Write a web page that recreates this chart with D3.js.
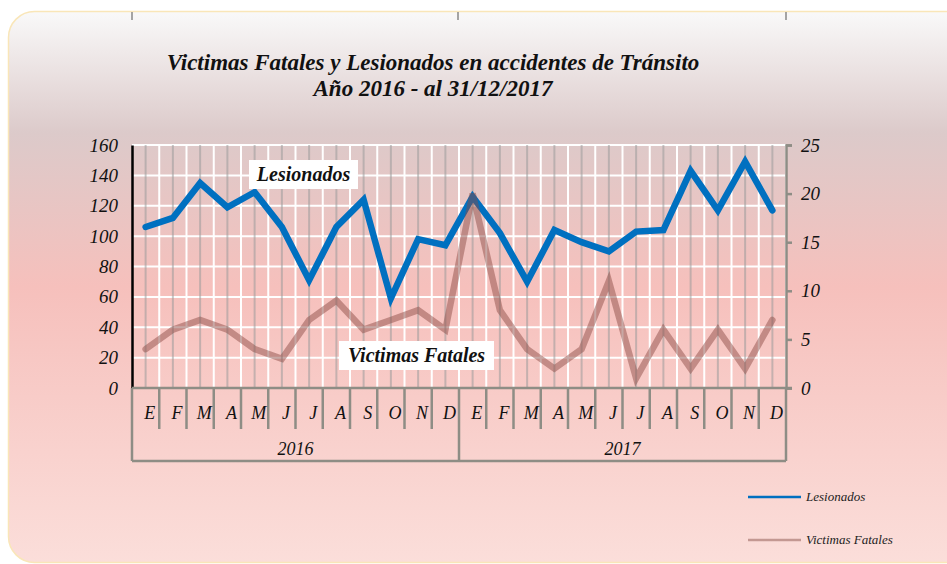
<!DOCTYPE html>
<html><head><meta charset="utf-8">
<script src="https://cdn.jsdelivr.net/npm/d3@7"></script>
<style>html,body{margin:0;padding:0;background:#fff;}svg{display:block;}</style>
</head><body>
<svg id="chart" width="947" height="564"></svg>
<script>
const months = ["E","F","M","A","M","J","J","A","S","O","N","D"];
const years = ["2016","2017"];
const lesionados = [106,112,135,119,129,106,71,106,124,59,98,94,126,102,70,104,96,90,103,104,143,117,149,117];
const fatales = [4,6,7,6,4,3,7,9,6,7,8,6,20,8,4,2,4,11,1,6,2,6,2,7];
const leftTicks = [0,20,40,60,80,100,120,140,160];
const rightTicks = [0,5,10,15,20,25];
const titleLines = ["Victimas Fatales y Lesionados en accidentes de Tránsito","Año 2016 - al 31/12/2017"];

const svg = d3.select("#chart");
const font = "'Liberation Serif', 'DejaVu Serif', serif";
const L = 132, R = 786, T = 145, B = 388;

const defs = svg.append("defs");
const g1 = defs.append("linearGradient").attr("id","bg").attr("x1",0).attr("y1",0).attr("x2",0).attr("y2",1);
[[0,"#f9f9f9"],[0.22,"#dccaca"],[0.5,"#f6c0bc"],[1,"#fbdeda"]].forEach(s=>g1.append("stop").attr("offset",s[0]).attr("stop-color",s[1]));

svg.append("rect").attr("x",8.5).attr("y",11.5).attr("width",970).attr("height",551).attr("rx",26)
  .attr("fill","url(#bg)").attr("stroke","#f9e6b8").attr("stroke-width",1.5);

// stray top ticks
[L, 458, R].forEach(x=>svg.append("line").attr("x1",x).attr("x2",x).attr("y1",12).attr("y2",20).attr("stroke","#888").attr("stroke-width",1.5));

// title
svg.append("g").selectAll("text").data(titleLines).join("text")
  .attr("x",433).attr("y",(d,i)=>70+i*26).attr("text-anchor","middle")
  .attr("font-family",font).attr("font-style","italic").attr("font-weight","bold").attr("font-size",23)
  .attr("fill","#111").text(d=>d);

const cats = d3.range(24);
const x = d3.scaleBand().domain(cats).range([L,R]).padding(0);
const yL = d3.scaleLinear().domain([0,160]).range([B,T]);
const yR = d3.scaleLinear().domain([0,25]).range([B,T]);

// horizontal gridlines
svg.append("g").selectAll("line").data(leftTicks.slice(1)).join("line")
  .attr("x1",L).attr("x2",R).attr("y1",d=>yL(d)).attr("y2",d=>yL(d))
  .attr("stroke","#fff").attr("stroke-width",2);
// vertical white lines at boundaries
svg.append("g").selectAll("line").data(d3.range(1,25)).join("line")
  .attr("x1",d=>L+d*x.bandwidth()).attr("x2",d=>L+d*x.bandwidth()).attr("y1",T).attr("y2",B)
  .attr("stroke","#fff").attr("stroke-width",2);
// grey lines at category centers
svg.append("g").selectAll("line").data(cats).join("line")
  .attr("x1",d=>x(d)+x.bandwidth()/2).attr("x2",d=>x(d)+x.bandwidth()/2).attr("y1",T).attr("y2",B)
  .attr("stroke","#9a9a9a").attr("stroke-opacity",0.55).attr("stroke-width",2);

// left axis
const la = svg.append("g").attr("transform",`translate(${L},0)`).call(d3.axisLeft(yL).tickValues(leftTicks).tickSize(0).tickPadding(14));
la.select(".domain").attr("stroke","#000").attr("stroke-width",2.5);
la.selectAll("text").attr("font-family",font).attr("font-style","italic").attr("font-size",19).attr("fill","#111");

// right axis
const ra = svg.append("g").attr("transform",`translate(${R},0)`).call(d3.axisRight(yR).tickValues(rightTicks).tickSize(6).tickPadding(9));
ra.select(".domain").attr("stroke","#8e8d85").attr("stroke-width",2.5);
ra.selectAll(".tick line").attr("stroke","#8e8d85").attr("stroke-width",2.5);
ra.selectAll("text").attr("font-family",font).attr("font-style","italic").attr("font-size",19).attr("fill","#111");

// bottom category axis
const axg = svg.append("g").attr("stroke","#8e8d85").attr("stroke-width",2.5);
axg.append("line").attr("x1",L).attr("x2",R+6).attr("y1",B).attr("y2",B);
axg.selectAll(".mt").data(d3.range(1,24).filter(d=>d!==12)).join("line")
  .attr("x1",d=>L+d*x.bandwidth()).attr("x2",d=>L+d*x.bandwidth()).attr("y1",B).attr("y2",429);
axg.selectAll(".yt").data([0,12,24]).join("line")
  .attr("x1",d=>L+d*x.bandwidth()).attr("x2",d=>L+d*x.bandwidth()).attr("y1",B).attr("y2",461);
axg.append("line").attr("x1",L).attr("x2",R).attr("y1",461).attr("y2",461);

svg.append("g").selectAll("text").data(cats).join("text")
  .attr("x",d=>x(d)+x.bandwidth()/2+4).attr("y",419).attr("text-anchor","middle")
  .attr("font-family",font).attr("font-style","italic").attr("font-size",18).attr("fill","#111")
  .text(d=>months[d%12]);
svg.append("g").selectAll("text").data(years).join("text")
  .attr("x",(d,i)=>L+(i*12+6)*x.bandwidth()).attr("y",455).attr("text-anchor","middle")
  .attr("font-family",font).attr("font-style","italic").attr("font-size",18).attr("fill","#111")
  .text(d=>d);

// lines
const cx = (d,i)=>x(i)+x.bandwidth()/2;
svg.append("path").datum(lesionados)
  .attr("d",d3.line().x(cx).y(d=>yL(d)))
  .attr("fill","none").attr("stroke","#0070c0").attr("stroke-width",6.5).attr("stroke-linejoin","miter").attr("stroke-linecap","round");
svg.append("path").datum(fatales)
  .attr("d",d3.line().x(cx).y(d=>yR(d)))
  .attr("fill","none").attr("stroke","#8a4a42").attr("stroke-opacity",0.48).attr("stroke-width",6.5).attr("stroke-linejoin","miter").attr("stroke-linecap","round");

// in-chart labels
function boxLabel(txt, cxp, cyp, w, fs){
  svg.append("rect").attr("x",cxp-w/2).attr("y",cyp-14.5).attr("width",w).attr("height",29).attr("fill","#fff");
  svg.append("text").attr("x",cxp).attr("y",cyp+6.5).attr("text-anchor","middle")
    .attr("font-family",font).attr("font-style","italic").attr("font-weight","bold").attr("font-size",fs)
    .attr("fill","#111").text(txt);
}
boxLabel("Lesionados", 303.5, 174.5, 109, 20);
boxLabel("Victimas Fatales", 416.5, 355.5, 155, 20);

// legend
const leg = [{name:"Lesionados",color:"#0070c0",y:497},{name:"Victimas Fatales",color:"#c39892",y:540}];
const lg = svg.append("g");
lg.selectAll("line").data(leg).join("line").attr("x1",748).attr("x2",801).attr("y1",d=>d.y).attr("y2",d=>d.y)
  .attr("stroke",d=>d.color).attr("stroke-width",2.5);
lg.selectAll("text").data(leg).join("text").attr("x",806).attr("y",d=>d.y+4)
  .attr("font-family",font).attr("font-style","italic").attr("font-size",13).attr("fill","#222").text(d=>d.name);
</script>
</body></html>
